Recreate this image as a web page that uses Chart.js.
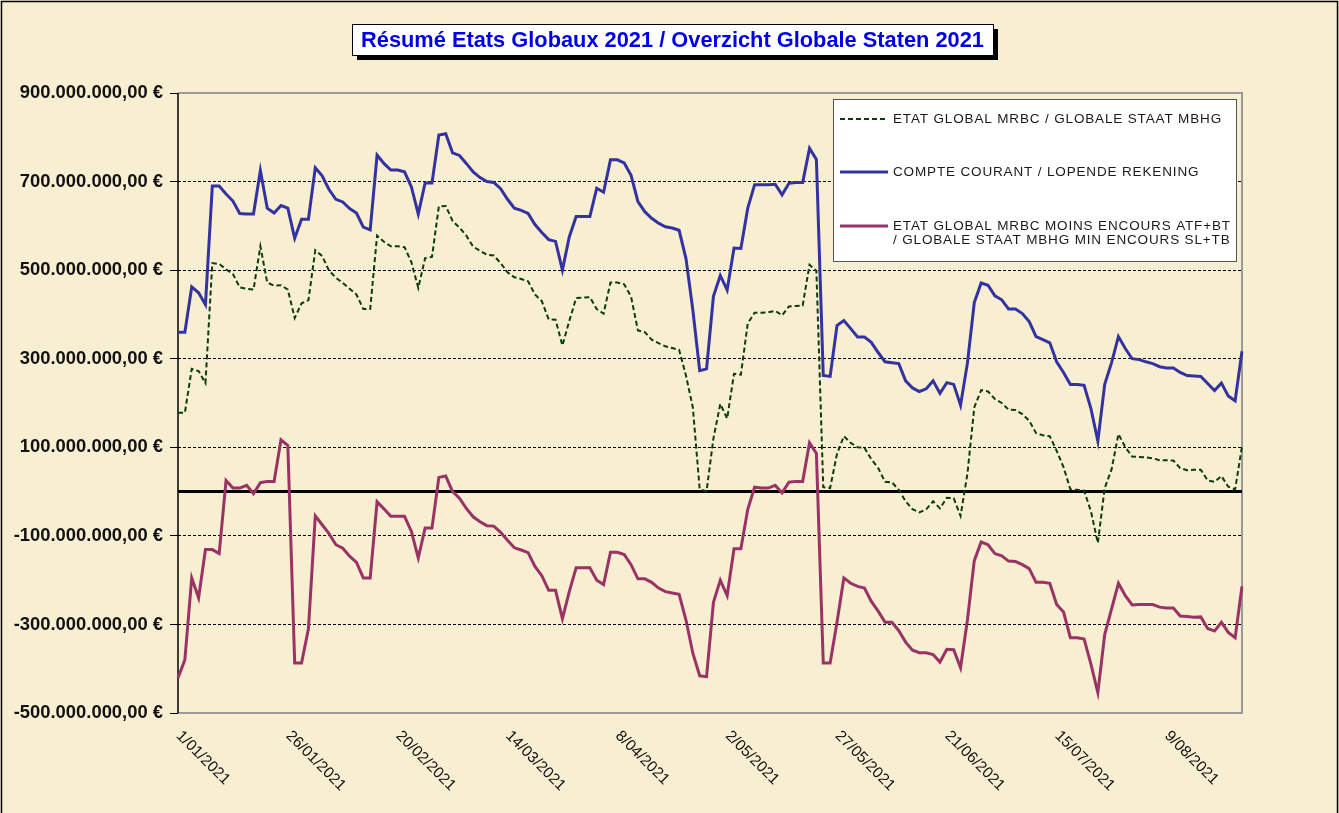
<!DOCTYPE html>
<html>
<head>
<meta charset="utf-8">
<title>Résumé Etats Globaux 2021</title>
<script src="https://cdn.jsdelivr.net/npm/chart.js@4.4.1/dist/chart.umd.min.js"></script>
<style>
    html, body { margin: 0; padding: 0; background: #F9EFD5; }
    canvas { display: block; }
</style>
</head>
<body>
<canvas id="etatsChart" width="1339" height="813"></canvas>
<script>
// Libellés des graduations (une date tous les 16 points)
const tickLabels = ['1/01/2021', '26/01/2021', '20/02/2021', '14/03/2021', '8/04/2021',
    '2/05/2021', '27/05/2021', '21/06/2021', '15/07/2021', '9/08/2021'];
const pointsPerTick = 16;
const pointCount = 156;

// Valeurs en millions d'euros
const etatGlobal = [
    178, 178, 277, 272, 245, 516, 514, 502, 491, 461,
    458, 456, 554, 472, 465, 466, 456, 392, 425, 432,
    545, 532, 499, 483, 471, 458, 445, 412, 412, 578,
    564, 554, 554, 552, 518, 460, 527, 530, 644, 645,
    611, 596, 578, 553, 544, 535, 533, 516, 495, 484,
    480, 475, 445, 430, 389, 388, 330, 385, 437, 438,
    439, 412, 402, 472, 472, 468, 440, 364, 360, 343,
    335, 328, 324, 320, 262, 190, 5, 1, 120, 198,
    165, 266, 264, 380, 404, 404, 405, 408, 398, 418,
    419, 420, 512, 498, 10, 8, 85, 125, 110, 100,
    99, 73, 53, 22, 21, 4, -22, -40, -47, -40,
    -22, -38, -14, -15, -55, 40, 190, 229, 226, 209,
    200, 185, 184, 175, 160, 132, 127, 125, 92, 55,
    5, 4, 2, -45, -116, 8, 50, 130, 100, 79,
    78, 77, 75, 71, 71, 70, 53, 48, 49, 49,
    25, 22, 35, 11, 5, 102
];

const compteCourant = [
    360, 360, 462, 449, 422, 690, 690, 672, 656, 628,
    627, 627, 725, 640, 629, 646, 640, 572, 615, 615,
    731, 713, 682, 660, 654, 639, 629, 597, 591, 760,
    741, 726, 726, 722, 688, 627, 697, 697, 805, 808,
    765, 759, 741, 722, 709, 700, 698, 684, 660, 640,
    635, 628, 603, 585, 569, 565, 500, 575, 621, 621,
    621, 685, 676, 749, 749, 742, 714, 655, 632, 617,
    606, 598, 595, 590, 526, 410, 273, 277, 441, 488,
    455, 550, 549, 640, 693, 693, 693, 694, 670, 696,
    698, 698, 775, 750, 262, 260, 375, 386, 368, 349,
    349, 337, 314, 293, 291, 289, 250, 234, 226, 232,
    250, 222, 246, 242, 195, 290, 427, 471, 466, 442,
    433, 412, 412, 402, 384, 350, 343, 336, 293, 269,
    242, 242, 240, 187, 114, 242, 291, 350, 323, 300,
    298, 293, 289, 282, 279, 279, 269, 262, 261, 260,
    244, 228, 245, 216, 205, 317
];

const etatMoinsEncours = [
    -421, -380, -195, -240, -131, -131, -140, 25, 8, 8,
    14, -5, 20, 23, 23, 117, 104, -387, -387, -310,
    -55, -75, -95, -120, -128, -146, -160, -195, -195, -23,
    -39, -56, -56, -56, -90, -150, -82, -82, 32, 35,
    0, -15, -38, -57, -68, -77, -78, -92, -110, -127,
    -132, -138, -169, -190, -223, -223, -287, -226, -172, -172,
    -172, -200, -210, -137, -137, -142, -165, -197, -197, -205,
    -218, -226, -229, -232, -290, -365, -416, -418, -250, -200,
    -235, -129, -129, -40, 10, 8, 8, 14, -3, 21,
    23, 23, 110, 86, -387, -387, -295, -195, -207, -214,
    -218, -248, -270, -295, -295, -314, -340, -358, -364, -364,
    -368, -385, -356, -357, -398, -290, -156, -114, -120, -140,
    -145, -157, -158, -165, -174, -205, -205, -207, -255, -272,
    -330, -330, -333, -390, -454, -323, -265, -207, -235, -256,
    -255, -255, -255, -261, -263, -263, -281, -282, -284, -283,
    -309, -315, -295, -318, -330, -214
];

const labels = [];
for (let i = 0; i < pointCount; i++) {
    labels.push(i % pointsPerTick === 0 ? tickLabels[i / pointsPerTick] : '');
}

const FONT = "'Liberation Sans', Arial, sans-serif";

// Format des montants: 900.000.000,00 €
function formatEuro(millions) {
    const sign = millions < 0 ? '-' : '';
    return sign + Math.abs(millions) + '.000.000,00 €';
}

// Fond parchemin + titre encadré + légende + dates inclinées
const decorPlugin = {
    id: 'decor',
    beforeDraw(chart) {
        const ctx = chart.ctx;
        ctx.save();
        ctx.fillStyle = '#F8EED2';
        ctx.fillRect(0, 0, chart.width, chart.height);
        ctx.strokeStyle = '#000';
        ctx.lineWidth = 1.5;
        ctx.strokeRect(1.5, 1.5, chart.width - 3, chart.height + 10);
        ctx.restore();
    },
    beforeDatasetsDraw(chart) {
        const ctx = chart.ctx;
        const area = chart.chartArea;
        const y = chart.scales.y;
        ctx.save();
        // cadre gris de la zone de tracé
        ctx.strokeStyle = '#9a9a9a';
        ctx.lineWidth = 2;
        ctx.beginPath();
        ctx.moveTo(area.left, area.top);
        ctx.lineTo(area.right, area.top);
        ctx.lineTo(area.right, area.bottom);
        ctx.lineTo(area.left, area.bottom);
        ctx.stroke();
        // axe vertical noir
        ctx.strokeStyle = '#000';
        ctx.lineWidth = 1.5;
        ctx.beginPath();
        ctx.moveTo(area.left, area.top);
        ctx.lineTo(area.left, area.bottom);
        ctx.stroke();
        // ligne du zéro
        const y0 = y.getPixelForValue(0);
        ctx.lineWidth = 3;
        ctx.beginPath();
        ctx.moveTo(area.left, y0);
        ctx.lineTo(area.right, y0);
        ctx.stroke();
        ctx.restore();
    },
    afterDraw(chart) {
        const ctx = chart.ctx;
        const x = chart.scales.x;
        ctx.save();

        // Titre
        const title = 'Résumé Etats Globaux 2021 / Overzicht Globale Staten 2021';
        const bx = 352, by = 24, bw = 641, bh = 31;
        ctx.fillStyle = '#000';
        ctx.fillRect(bx + 5, by + 5, bw, bh);
        ctx.fillStyle = '#fff';
        ctx.fillRect(bx, by, bw, bh);
        ctx.strokeStyle = '#000';
        ctx.lineWidth = 1;
        ctx.strokeRect(bx + 0.5, by + 0.5, bw, bh);
        ctx.fillStyle = '#0000E6';
        ctx.font = 'bold 22px ' + FONT;
        ctx.textAlign = 'center';
        ctx.textBaseline = 'middle';
        ctx.fillText(title, bx + bw / 2, by + bh / 2 + 1, 623);

        // Légende
        const lx = 833, ly = 99, lw = 403, lh = 162;
        ctx.fillStyle = '#fff';
        ctx.fillRect(lx, ly, lw, lh);
        ctx.strokeStyle = '#555';
        ctx.lineWidth = 1;
        ctx.strokeRect(lx + 0.5, ly + 0.5, lw, lh);
        const rows = [119, 172, 226];
        ctx.font = '13.5px ' + FONT;
        ctx.letterSpacing = '0.85px';
        ctx.textAlign = 'left';
        chart.data.datasets.forEach((ds, i) => {
            const ry = rows[i];
            ctx.strokeStyle = ds.borderColor;
            ctx.lineWidth = ds.borderWidth;
            ctx.setLineDash(ds.borderDash || []);
            ctx.beginPath();
            ctx.moveTo(lx + 7, ry);
            ctx.lineTo(lx + 55, ry);
            ctx.stroke();
            ctx.setLineDash([]);
            ctx.fillStyle = '#1a1a1a';
            const lines = ds.label.split('\n');
            const y0 = ry - (lines.length - 1) * 14 / 2 + (lines.length > 1 ? 7 : 0);
            lines.forEach((t, j) => {
                ctx.fillText(t, lx + 60, y0 + j * 14);
            });
        });
        ctx.letterSpacing = '0px';

        // Dates inclinées sur l'axe horizontal
        ctx.fillStyle = '#111';
        ctx.font = '15.5px ' + FONT;
        ctx.textAlign = 'left';
        ctx.textBaseline = 'top';
        tickLabels.forEach((t, i) => {
            const px = x.getPixelForValue(i * pointsPerTick);
            ctx.save();
            ctx.translate(px + 6, 728);
            ctx.rotate(Math.PI / 4);
            ctx.fillText(t, 0, 0);
            ctx.restore();
        });
        ctx.restore();
    }
};

const ctx = document.getElementById('etatsChart').getContext('2d');
new Chart(ctx, {
    type: 'line',
    data: {
        labels: labels,
        datasets: [
            {
                label: 'ETAT GLOBAL MRBC / GLOBALE STAAT MBHG',
                data: etatGlobal,
                borderColor: '#0B3D0B',
                borderWidth: 2,
                borderDash: [5, 3],
                pointRadius: 0,
                tension: 0,
                fill: false
            },
            {
                label: 'COMPTE COURANT / LOPENDE REKENING',
                data: compteCourant,
                borderColor: '#3333A0',
                borderWidth: 3,
                pointRadius: 0,
                tension: 0,
                fill: false
            },
            {
                label: 'ETAT GLOBAL MRBC MOINS ENCOURS ATF+BT\n/ GLOBALE STAAT MBHG MIN ENCOURS SL+TB',
                data: etatMoinsEncours,
                borderColor: '#993366',
                borderWidth: 3,
                pointRadius: 0,
                tension: 0,
                fill: false
            }
        ]
    },
    options: {
        responsive: false,
        animation: false,
        devicePixelRatio: 1,
        layout: { padding: { left: 0, top: 93, right: 97, bottom: 0 } },
        plugins: {
            legend: { display: false },
            title: { display: false },
            tooltip: { enabled: false }
        },
        scales: {
            x: {
                type: 'category',
                offset: false,
                grid: { display: false, drawTicks: false },
                border: { display: false },
                ticks: { display: false },
                afterFit: function(scale) { scale.height = 100; }
            },
            y: {
                min: -500,
                max: 900,
                ticks: {
                    stepSize: 200,
                    padding: 7,
                    color: '#111',
                    font: { family: FONT, size: 18.4, weight: 'bold' },
                    callback: function(value) { return formatEuro(value); }
                },
                grid: {
                    color: '#000',
                    lineWidth: 1,
                    tickLength: 8,
                    tickColor: '#000'
                },
                border: { display: false, dash: [3, 2] },
                afterFit: function(scale) { scale.width = 178; }
            }
        }
    },
    plugins: [decorPlugin]
});
</script>
</body>
</html>
